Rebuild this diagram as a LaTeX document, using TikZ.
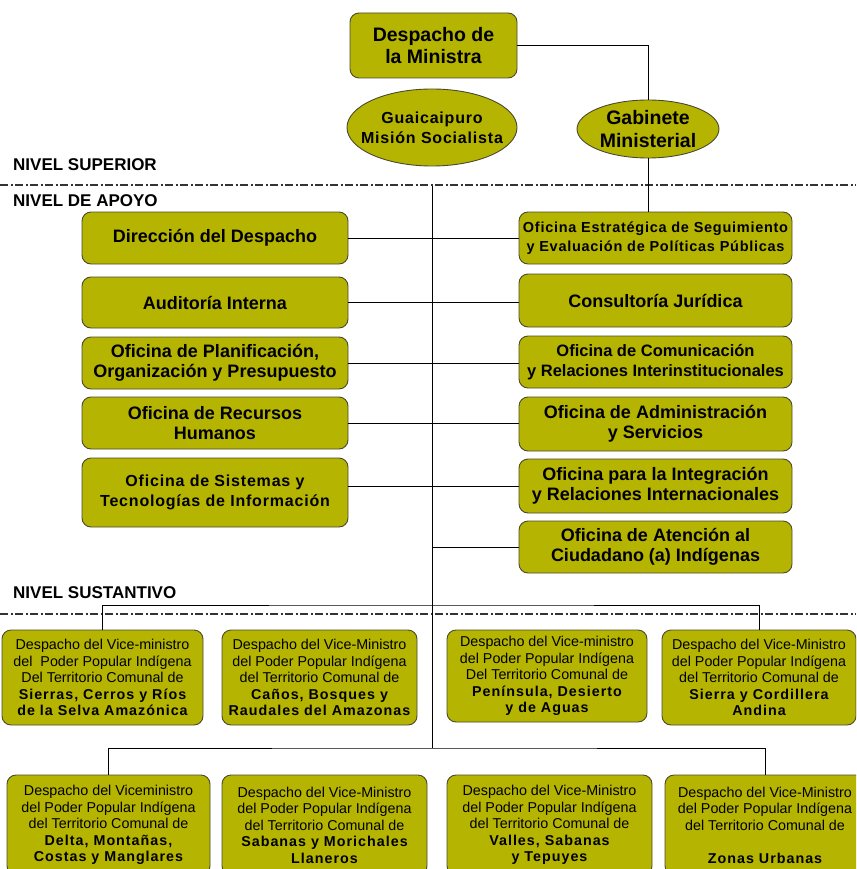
\documentclass[tikz,border=0pt]{standalone}
\usepackage{fontspec}
\setmainfont{Liberation Sans}
\newfontfamily\lsfont[LetterSpace=5]{Liberation Sans}
\newfontfamily\lsvfont[LetterSpace=7]{Liberation Sans}
\newcommand{\vbold}[1]{{\lsvfont\bfseries #1}}
\usetikzlibrary{shapes.geometric}
\definecolor{boxfill}{HTML}{B5B400}
\definecolor{boxline}{HTML}{4A4A30}
\begin{document}
\begin{tikzpicture}[x=1pt,y=-1pt,
  obox/.style={draw=boxline, fill=boxfill, line width=0.9pt, rounded corners=9pt, align=center, inner sep=1pt},
  oell/.style={ellipse, draw=boxline, fill=boxfill, line width=0.9pt, align=center, inner ysep=0pt},
  bigtxt/.style={font=\fontsize{18}{20.5}\selectfont\bfseries},
  vicetxt/.style={font=\fontsize{14.3}{16.5}\selectfont},
  conn/.style={draw=black, line width=0.9pt},
  levelline/.style={dash pattern=on 8pt off 2.5pt on 2pt off 2.5pt, line width=1.4pt, draw=black!80},
  lvl/.style={anchor=west, font=\fontsize{17}{19}\selectfont\bfseries, inner sep=0pt}]
\useasboundingbox (0,0) rectangle (856,869);
\clip (0,0) rectangle (856,869);

% level separators
\coordinate (l1a) at (0,185); \coordinate (l1b) at (856,185);
\coordinate (l2a) at (0,614); \coordinate (l2b) at (856,614);
\draw[levelline] (l1a) -- (l1b);
\draw[levelline] (l2a) -- (l2b);
\node[lvl] (nsup) at (13,165) {NIVEL SUPERIOR};
\node[lvl] (napo) at (13,201) {NIVEL DE APOYO};
\node[lvl] (nsus) at (13,593) {NIVEL SUSTANTIVO};

% top level
\node[obox, minimum width=167pt, minimum height=65pt, font=\fontsize{19.5}{22}\selectfont\bfseries] (desp) at (433.5,45.5) {Despacho de\\la Ministra};
\node[oell, inner xsep=-12pt, minimum width=170pt, minimum height=77pt, font=\fontsize{16}{20}\lsfont\bfseries] (guai) at (432,127.5) {Guaicaipuro\\Misión Socialista};
\node[oell, inner xsep=-4pt, minimum width=142pt, minimum height=58pt, font=\fontsize{19.5}{23}\selectfont\bfseries] (gab) at (648,129) {Gabinete\\Ministerial};

% left column
\node[obox, bigtxt, minimum width=266pt, minimum height=52pt] (dir) at (215,238) {Dirección del Despacho};
\node[obox, bigtxt, minimum width=266pt, minimum height=51pt] (aud) at (215,302.5) {Auditoría Interna};
\node[obox, bigtxt, minimum width=266pt, minimum height=52pt] (plan) at (215,363) {Oficina de Planificación,\\Organización y Presupuesto};
\node[obox, bigtxt, minimum width=266pt, minimum height=52pt] (rrhh) at (215,423) {Oficina de Recursos\\Humanos};
\node[obox, minimum width=266pt, minimum height=69pt, font=\fontsize{16}{20}\lsfont\bfseries] (sis) at (215,492.5) {Oficina de Sistemas y\\Tecnologías de Información};

% right column
\node[obox, minimum width=273pt, minimum height=52pt, font=\fontsize{14.5}{19}\lsfont\bfseries] (est) at (655.5,238) {Oficina Estratégica de Seguimiento\\y Evaluación de Políticas Públicas};
\node[obox, bigtxt, minimum width=273pt, minimum height=53pt] (cons) at (655.5,300.5) {Consultoría Jurídica};
\node[obox, minimum width=273pt, minimum height=52pt, font=\fontsize{16.5}{20}\selectfont\bfseries] (com) at (655.5,362) {Oficina de Comunicación\\y Relaciones Interinstitucionales};
\node[obox, bigtxt, minimum width=273pt, minimum height=54pt] (adm) at (655.5,424) {Oficina de Administración\\y Servicios};
\node[obox, bigtxt, minimum width=273pt, minimum height=54pt] (int) at (655.5,486) {Oficina para la Integración\\y Relaciones Internacionales};
\node[obox, bigtxt, minimum width=273pt, minimum height=52pt] (aten) at (655.5,547) {Oficina de Atención al\\Ciudadano (a) Indígenas};

% vice-ministry row 1
\node[obox, vicetxt, minimum width=201pt, minimum height=95pt] (v11) at (102.5,677.5) {Despacho del Vice-ministro\\del \ Poder Popular Indígena\\Del Territorio Comunal de\\\vbold{Sierras, Cerros y Ríos}\\\vbold{de la Selva Amazónica}};
\node[obox, vicetxt, minimum width=195pt, minimum height=95pt] (v12) at (319.5,677.5) {Despacho del Vice-Ministro\\del Poder Popular Indígena\\del Territorio Comunal de\\\vbold{Caños, Bosques y}\\\vbold{Raudales del Amazonas}};
\node[obox, vicetxt, minimum width=200pt, minimum height=92pt] (v13) at (547,676) {Despacho del Vice-ministro\\del Poder Popular Indígena\\Del Territorio Comunal de\\\vbold{Península, Desierto}\\\vbold{y de Aguas}};
\node[obox, vicetxt, minimum width=194pt, minimum height=95pt] (v14) at (759,677.5) {Despacho del Vice-Ministro\\del Poder Popular Indígena\\del Territorio Comunal de\\\vbold{Sierra y Cordillera}\\\vbold{Andina}};

% vice-ministry row 2
\node[obox, vicetxt, minimum width=203pt, minimum height=100pt] (v21) at (108.5,825) {Despacho del Viceministro\\del Poder Popular Indígena\\del Territorio Comunal de\\\vbold{Delta, Montañas,}\\\vbold{Costas y Manglares}};
\node[obox, vicetxt, minimum width=205pt, minimum height=100pt] (v22) at (324.5,825) {Despacho del Vice-Ministro\\del Poder Popular Indígena\\del Territorio Comunal de\\\vbold{Sabanas y Morichales}\\\vbold{Llaneros}};
\node[obox, vicetxt, minimum width=205pt, minimum height=100pt] (v23) at (549.5,825) {Despacho del Vice-Ministro\\del Poder Popular Indígena\\del Territorio Comunal de\\\vbold{Valles, Sabanas}\\\vbold{y Tepuyes}};
\node[obox, vicetxt, minimum width=200pt, minimum height=100pt] (v24) at (765,825) {Despacho del Vice-Ministro\\del Poder Popular Indígena\\del Territorio Comunal de\\\mbox{}\\\vbold{Zonas Urbanas}};

% connectors
\coordinate (ctop) at (432,186);
\coordinate (cbot) at (432,748);
\coordinate (r1) at (432,605);
\draw[conn] (desp.east) -| (gab.north);
\draw[conn] (gab.south) -- (gab.south |- est.north);
\draw[conn] (ctop) -- (cbot);
\draw[conn] (dir.east) -- (est.west);
\draw[conn] (aud.east) -- (aud.east -| cons.west);
\draw[conn] (plan.east) -- (plan.east -| com.west);
\draw[conn] (rrhh.east) -- (rrhh.east -| adm.west);
\draw[conn] (int.west) -- (int.west -| sis.east);
\draw[conn] (aten.west) -- (aten.west -| ctop);
\draw[conn] (v11.north) |- (r1) -| (v14.north);
\draw[conn] (v21.north) |- (cbot) -| (v24.north);
\end{tikzpicture}
\end{document}
